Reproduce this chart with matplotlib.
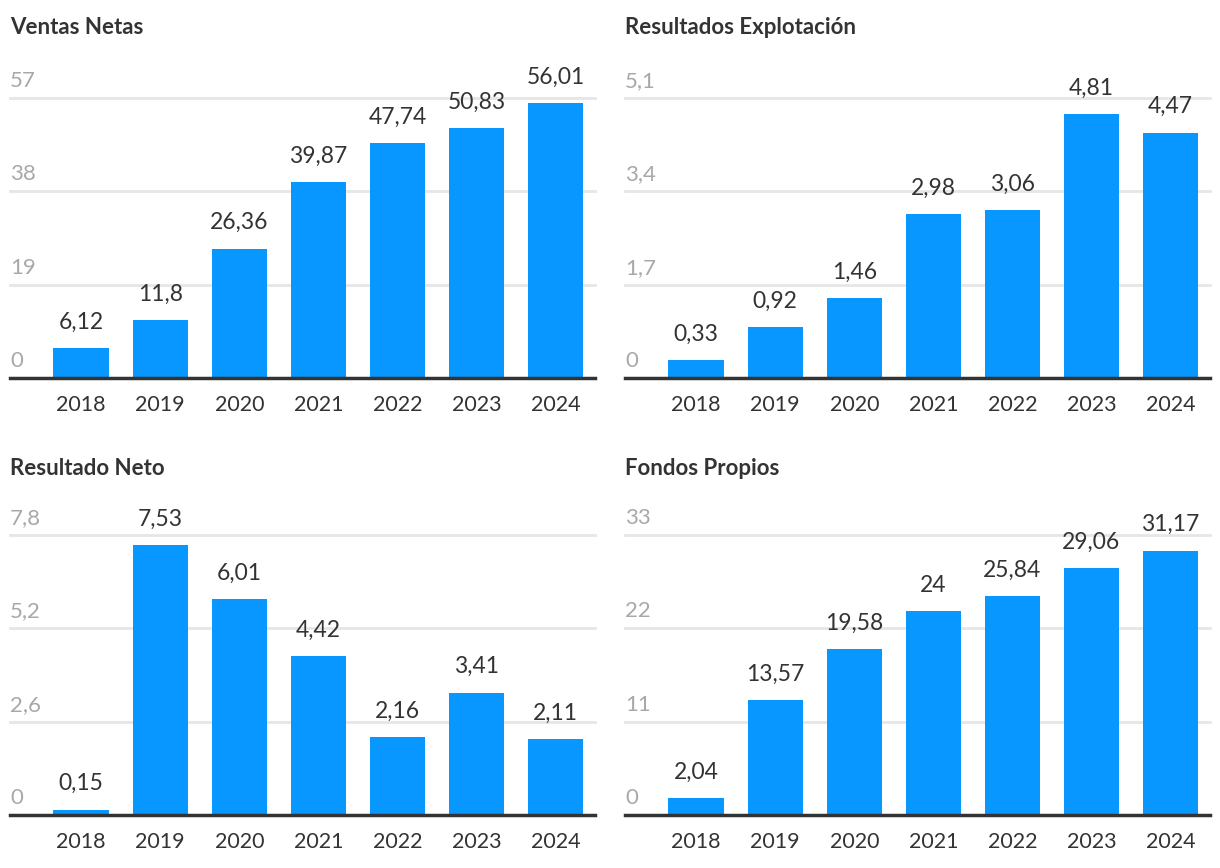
import matplotlib
matplotlib.use("Agg")
import matplotlib.pyplot as plt
import matplotlib.transforms as mtransforms

years = ["2018", "2019", "2020", "2021", "2022", "2023", "2024"]

titles = ["Ventas Netas", "Resultados Explotación", "Resultado Neto", "Fondos Propios"]

ventas = [6.12, 11.8, 26.36, 39.87, 47.74, 50.83, 56.01]
explotacion = [0.33, 0.92, 1.46, 2.98, 3.06, 4.81, 4.47]
neto = [0.15, 7.53, 6.01, 4.42, 2.16, 3.41, 2.11]
fondos = [2.04, 13.57, 19.58, 24, 25.84, 29.06, 31.17]

ticks_ventas = [0, 19, 38, 57]
ticks_explotacion = [0, 1.7, 3.4, 5.1]
ticks_neto = [0, 2.6, 5.2, 7.8]
ticks_fondos = [0, 11, 22, 33]

series = [ventas, explotacion, neto, fondos]
ticks = [ticks_ventas, ticks_explotacion, ticks_neto, ticks_fondos]

BAR = "#0896ff"
DARK = "#333333"
GRAY = "#a8a8a8"
GRID = "#e6e6e6"
FONT = ["Lato", "DejaVu Sans"]

plt.rcParams["font.family"] = FONT

W, H = 1220, 868
fig = plt.figure(figsize=(W / 100, H / 100), dpi=100)

# (left, baseline y, top y, right) in pixels
boxes = [
    (10, 378, 98, 595),
    (625, 378, 98, 1210),
    (10, 815, 535, 595),
    (625, 815, 535, 1210),
]
title_y = [27, 27, 469, 469]


def fmt(v):
    s = ("%g" % v).replace(".", ",")
    return s


for i in range(4):
    l, b, t, r = boxes[i]
    ax = fig.add_axes([l / W, 1 - b / H, (r - l) / W, (b - t) / H])
    vals = series[i]
    tk = ticks[i]
    x = list(range(len(years)))
    ax.bar(x, vals, width=0.7, color=BAR, zorder=2)
    ax.set_xlim(-0.9, 6.5)
    ax.set_ylim(0, tk[-1])
    for s in ax.spines.values():
        s.set_visible(False)
    ax.set_yticks([])
    ax.set_xticks(x)
    ax.set_xticklabels(years, fontsize=15.5, color=DARK)
    ax.tick_params(axis="x", length=0, pad=12)
    ax.axhline(0, color=DARK, lw=2.5, zorder=3, clip_on=False)
    trans = mtransforms.blended_transform_factory(ax.transAxes, ax.transData)
    for v in tk:
        if v != 0:
            ax.axhline(v, color=GRID, lw=2, zorder=1, clip_on=False)
        ax.annotate(fmt(v), xy=(0, v), xycoords=trans, xytext=(0, 5),
                    textcoords="offset points", ha="left", va="bottom",
                    fontsize=16, color=GRAY, clip_on=False)
    for xi, v in zip(x, vals):
        ax.annotate(fmt(v), xy=(xi, v), xytext=(0, 11), textcoords="offset points",
                    ha="center", va="bottom", fontsize=16.5, color=DARK,
                    annotation_clip=False, zorder=4)
    fig.text(l / W, 1 - title_y[i] / H, titles[i], fontsize=16, fontweight="bold",
             color=DARK, ha="left", va="center")

fig.savefig("out.png", dpi=100, facecolor="white")
